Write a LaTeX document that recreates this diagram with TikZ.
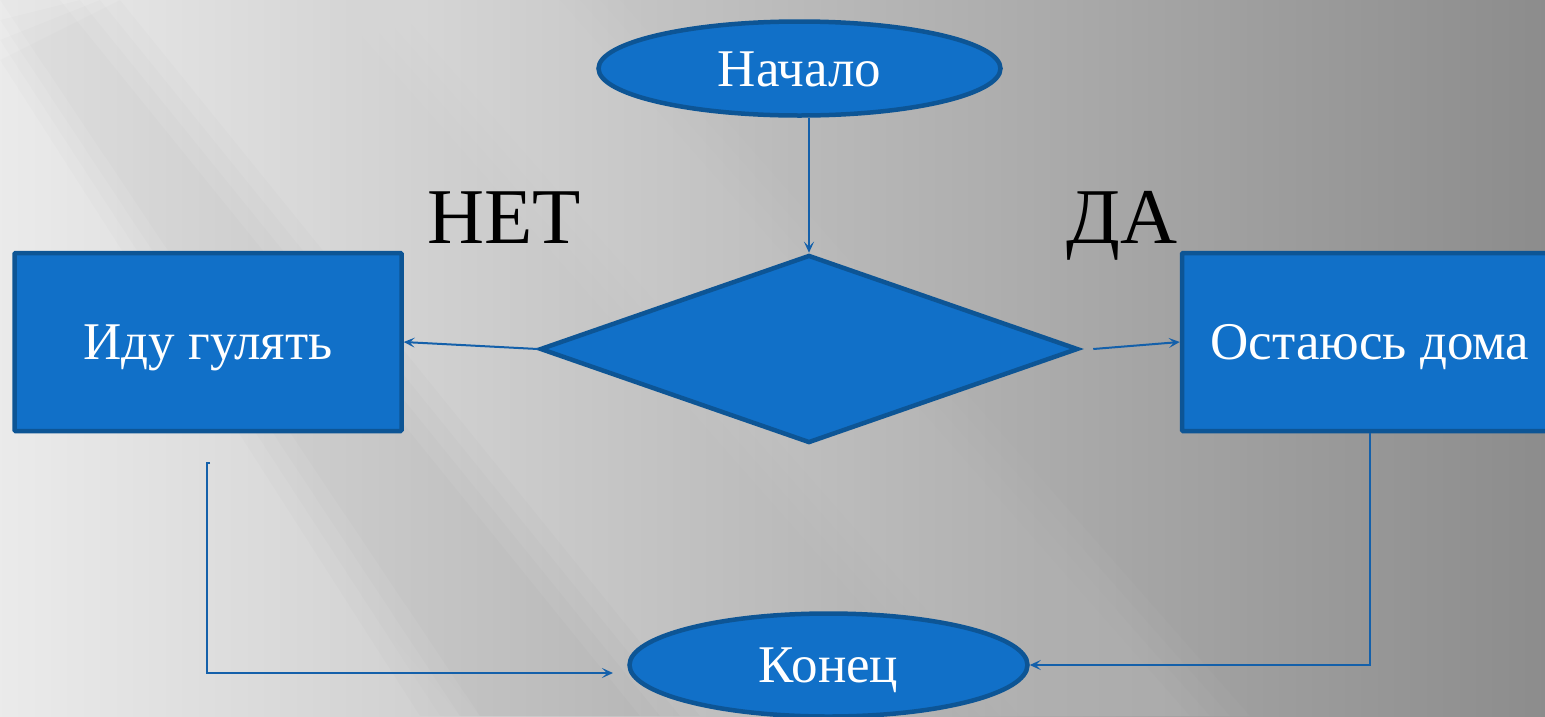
\documentclass[tikz,border=0pt]{standalone}
\usepackage{fontspec}
\setmainfont{Liberation Serif}
\usetikzlibrary{shapes.geometric,arrows.meta,calc}
\definecolor{boxfill}{HTML}{1170C8}
\definecolor{boxline}{HTML}{0D5595}
\definecolor{conn}{HTML}{1460AA}
\tikzset{
  boxtext/.style={text=white, font=\fontsize{53}{60}\selectfont, text height=35pt, text depth=0pt, inner sep=0pt},
  blockshape/.style={boxtext, fill=boxfill, draw=boxline, line width=4.5pt},
  terminal/.style={blockshape, ellipse},
  procbox/.style={blockshape, rectangle, rounded corners=1pt},
  decision/.style={blockshape, diamond, shape aspect=2.86},
  conn/.style={draw=conn, line width=2pt, -{Stealth[length=11pt,width=10pt,inset=5pt]}},
  answer/.style={text=black, font=\fontsize{79}{90}\selectfont, anchor=base, inner sep=0pt}
}
\begin{document}
\begin{tikzpicture}[x=1pt,y=-1pt]
\useasboundingbox (0,0) rectangle (1545,716);
\begin{scope}
\clip (0,0) rectangle (1545,716);
% background
\shade[left color=black!8, right color=black!45] (0,0) rectangle (1545,716);
\foreach \o in {0,20,40,60} {
  \fill[white, opacity=0.025] ({330+\o},0) -- ({620-\o},0) -- ({1250-\o},716) -- ({960+\o},716) -- cycle;
  \fill[black, opacity=0.012] ({0},{60-\o}) -- ({120-\o},0) -- ({700-\o},716) -- ({420+\o},716) -- cycle;
  \fill[white, opacity=0.02] (0,{300-\o}) -- (0,{160+\o}) -- ({480-\o},716) -- ({330+\o},716) -- cycle;
}

% nodes
\node[terminal, minimum width=402pt, minimum height=94pt] (start) at (799.5,68.5) {Начало};
\node[decision, minimum width=538pt, minimum height=188pt] (dec) at (809,349) {};
\node[procbox, minimum width=387pt, minimum height=178pt] (left) at (208,342) {Иду гулять};
\node[procbox, minimum width=376pt, minimum height=178pt] (right) at (1370,342) {Остаюсь дома};
\node[terminal, minimum width=398pt, minimum height=103pt] (finish) at (828.5,665) {Конец};

\node[answer] (no) at (504,243) {НЕТ};
\node[answer] (yes) at (1122,243) {ДА};

% connectors
\draw[conn] (dec.north |- start.south) -- (dec.north);
\draw[conn] (dec.west) -- (left.east);
\coordinate (yesfrom) at ($(dec.east)+(13,0)$);
\draw[conn] (yesfrom) -- (right.west);
\coordinate (ltop) at (207,463);
\coordinate (ltick) at (210,463);
\coordinate (lend) at (613,673);
\draw[conn] (ltick) -- (ltop) |- (lend);
\draw[conn] (right.south) |- (finish.east);
\end{scope}
\end{tikzpicture}
\end{document}
